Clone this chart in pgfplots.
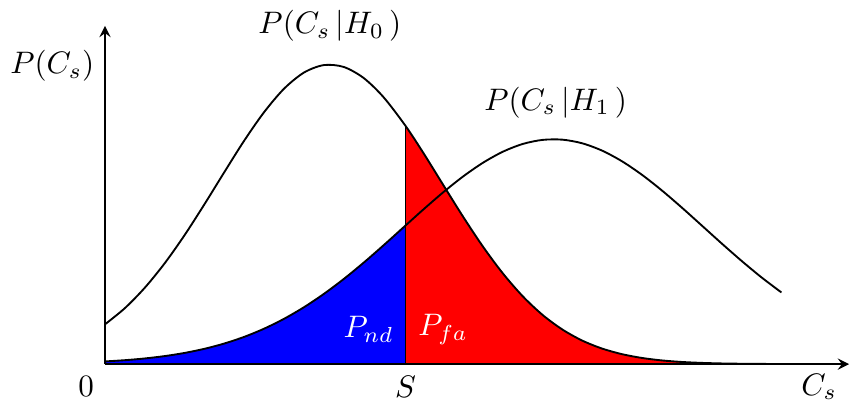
\documentclass[border=0pt]{standalone}
\usepackage{pgfplots}
\pgfplotsset{compat=1.18}

\pgfplotstableread{
x      h0
0.00   0.400
0.20   0.563
0.40   0.768
0.60   1.014
0.80   1.297
1.00   1.608
1.20   1.931
1.40   2.248
1.60   2.534
1.80   2.769
2.00   2.931
2.20   3.006
2.40   2.987
2.60   2.876
2.80   2.683
3.02   2.396
3.20   2.123
3.40   1.801
3.60   1.481
3.80   1.180
4.00   0.911
4.20   0.681
4.40   0.493
4.60   0.346
4.80   0.235
5.00   0.155
5.20   0.0991
5.40   0.0613
5.60   0.0367
5.80   0.0213
6.00   0.0120
6.20   0.0065
6.40   0.0035
6.60   0.0018
6.80   0.0009
}\hzero

\pgfplotstableread{
x      h1
0.00   0.0267
0.20   0.0393
0.40   0.0567
0.60   0.0805
0.80   0.1122
1.00   0.1538
1.20   0.2071
1.40   0.2740
1.60   0.3564
1.80   0.4554
2.00   0.5718
2.20   0.7056
2.40   0.8556
2.60   1.0197
2.80   1.1942
3.02   1.3924
3.20   1.5542
3.40   1.7273
3.60   1.8864
3.80   2.0245
4.00   2.1353
4.20   2.2132
4.40   2.2540
4.60   2.2560
4.80   2.2189
5.00   2.1447
5.20   2.0370
5.40   1.9013
5.60   1.7440
5.80   1.5721
6.00   1.3924
6.20   1.2120
6.40   1.0369
6.60   0.8715
6.80   0.7200
}\hone

\begin{document}
\begin{tikzpicture}
\begin{axis}[
  x=32pt, y=32pt,
  axis lines=middle,
  axis line style={semithick},
  axis on top,
  xmin=0, xmax=7.48,
  ymin=0, ymax=3.40,
  xtick=\empty, ytick=\empty,
  clip=false,
]
  % shaded areas first
  \addplot[fill=blue, draw=none, smooth]
    table[x=x, y=h1, restrict x to domain=0:3.02] {\hone} \closedcycle;
  \addplot[fill=red, draw=none, smooth]
    table[x=x, y=h0, restrict x to domain=3.02:6.8] {\hzero} \closedcycle;

  \addplot[black, semithick, smooth] table[x=x, y=h0] {\hzero};
  \addplot[black, semithick, smooth] table[x=x, y=h1] {\hone};
  \addplot[black, semithick] coordinates {(3.02,0) (3.02,2.396)};

  \node at (axis cs:-0.19,-0.23) {$0$};
  \node at (axis cs:3.02,-0.23) {$S$};
  \node at (axis cs:7.18,-0.23) {$C_s$};
  \node at (axis cs:-0.53,3.00) {$P(C_s)$};
  \node at (axis cs:2.26,3.40) {$P(C_s\,|H_0\,)$};
  \node at (axis cs:4.53,2.63) {$P(C_s\,|H_1\,)$};
  \node[white] at (axis cs:2.65,0.35) {$P_{nd}$};
  \node[white] at (axis cs:3.40,0.35) {$P_{fa}$};
\end{axis}
\end{tikzpicture}
\end{document}
